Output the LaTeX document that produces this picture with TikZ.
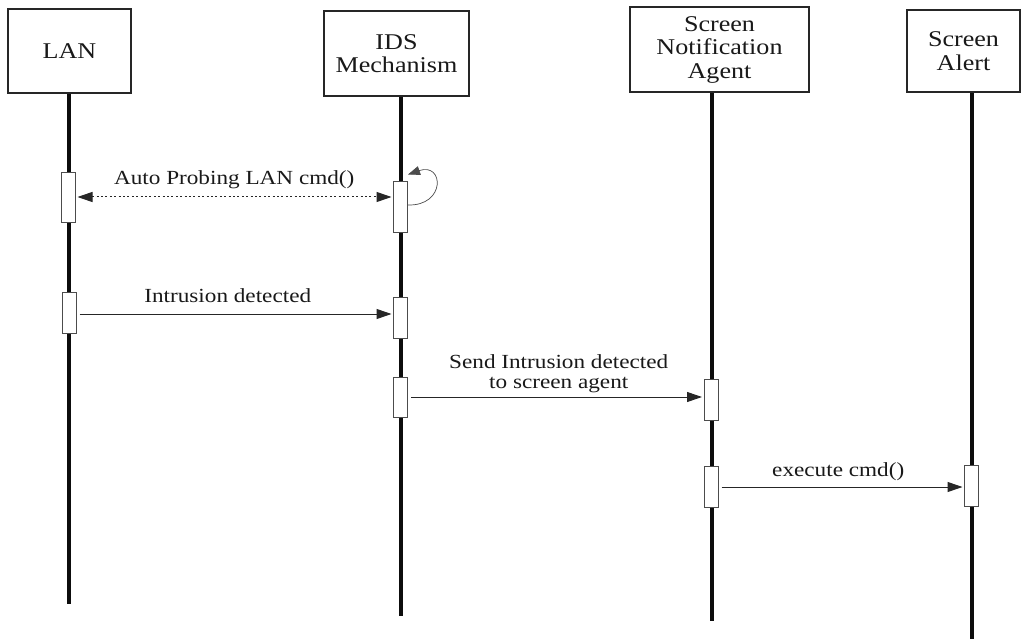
\documentclass[tikz,border=0pt]{standalone}
\usepackage{fontspec}
\setmainfont{Liberation Serif}[FakeStretch=1.16]
\usetikzlibrary{arrows.meta}
\begin{document}
\begin{tikzpicture}[x=1pt,y=-1pt,
  actor/.style={draw=black!85, line width=1.8pt, fill=white, align=center,
    font=\fontsize{22.5}{23.5}\selectfont, text=black!90, inner sep=0pt},
  lifeline/.style={line width=3.3pt, draw=black!95},
  act/.style={draw=black!70, line width=1pt, fill=white,
    minimum width=14pt, inner sep=0pt},
  tip/.style={-{Triangle[length=15pt,width=10pt]}},
  msg/.style={line width=1pt, draw=black!85, shorten >=1.5pt, shorten <=3pt},
  lbl/.style={font=\fontsize{20}{19.5}\selectfont, text=black!90, align=center,
    inner sep=0pt, text depth=0pt}]
\useasboundingbox (0,0) rectangle (1022,639);

% participants
\node[actor, minimum width=123pt, minimum height=84pt] (lan) at (69.5,51) {LAN};
\node[actor, minimum width=145pt, minimum height=85pt] (ids) at (396.5,53.5) {IDS\\Mechanism};
\node[actor, minimum width=179pt, minimum height=85pt] (sna) at (719.5,49.5) {Screen\\Notification\\Agent};
\node[actor, minimum width=113pt, minimum height=82pt] (sa) at (963.5,51) {Screen\\Alert};

% lifelines
\coordinate (lanEnd) at (69,604);
\coordinate (idsEnd) at (401,616);
\coordinate (snaEnd) at (712,621);
\coordinate (saEnd) at (972,645);
\draw[lifeline] (lan.south -| lanEnd) -- (lanEnd);
\draw[lifeline] (ids.south -| idsEnd) -- (idsEnd);
\draw[lifeline] (sna.south -| snaEnd) -- (snaEnd);
\draw[lifeline] (sa.south -| saEnd) -- (saEnd);

% activation bars
\node[act, minimum height=49pt] (lanA) at (68,197.5) {};
\node[act, minimum height=50pt] (idsA) at (400.5,207) {};
\node[act, minimum height=41pt] (lanB) at (69,312.5) {};
\node[act, minimum height=41pt] (idsB) at (400.5,317.5) {};
\node[act, minimum height=40pt] (idsC) at (400.5,397) {};
\node[act, minimum height=41pt] (snaA) at (711,399.5) {};
\node[act, minimum height=41pt] (snaB) at (711,486.5) {};
\node[act, minimum height=41pt] (saA) at (971.5,485.5) {};

% message heights
\coordinate (yProbe) at (0,197);
\coordinate (yIntr) at (0,314);
\coordinate (ySend) at (0,397);
\coordinate (yExec) at (0,487);
\coordinate (yLoop) at (0,205);

% messages
\draw[msg, {Triangle[length=15pt,width=10pt]}-{Triangle[length=15pt,width=10pt]},
      dash pattern=on 2pt off 2.4pt, shorten <=2pt]
  (lanA.east |- yProbe) -- (idsA.west |- yProbe)
  node[lbl, midway, above=12pt] {Auto Probing LAN cmd()};
\draw[msg, tip] (lanB.east |- yIntr) -- (idsB.west |- yIntr)
  node[lbl, midway, above=11pt, xshift=-7pt] {Intrusion detected};
\draw[msg, tip] (idsC.east |- ySend) -- (snaA.west |- ySend)
  node[lbl, midway, above=8.5pt, xshift=3pt] {Send Intrusion detected\\to screen agent};
\draw[msg, tip] (snaB.east |- yExec) -- (saA.west |- yExec)
  node[lbl, midway, above=10.5pt, xshift=-3pt] {execute cmd()};

% self call on the IDS lifeline
\draw[line width=0.7pt, draw=black!70, -{Triangle[length=12pt,width=9pt]}]
  (idsA.east |- yLoop) .. controls (446,206) and (444,162) .. ([yshift=7pt]idsA.north east);
\end{tikzpicture}
\end{document}
